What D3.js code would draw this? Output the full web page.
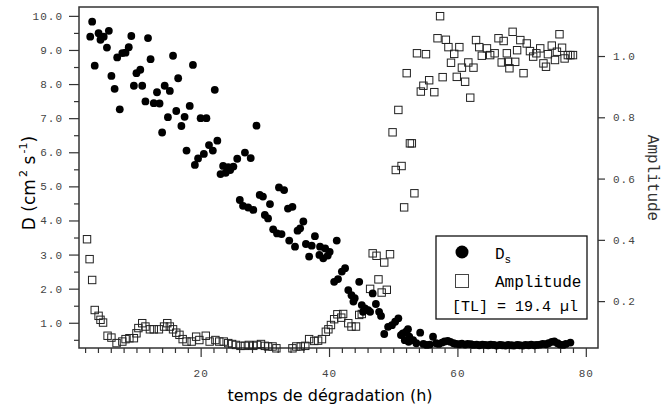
<!DOCTYPE html>
<html>
<head>
<meta charset="utf-8">
<script src="https://cdn.jsdelivr.net/npm/d3@7"></script>
<style>
  body { margin: 0; background: #fff; }
  svg { display: block; }
  .tick text { font-family: "Liberation Mono", monospace; font-size: 11px; letter-spacing: 1px; fill: #444; }
  .tick line { stroke: #333; stroke-width: 1.2px; }
</style>
</head>
<body>
<div id="chart"></div>
<script>
// D_s (cm2 s-1), left axis
var dsTime = [2.8, 3.1, 3.5, 4.1, 4.4, 4.9, 5.4, 5.7, 6.1, 6.6,
  7.0, 7.4, 7.8, 8.3, 8.8, 9.2, 9.6, 10.0, 10.6, 10.9,
  11.4, 11.8, 12.2, 12.7, 13.2, 13.6, 14.0, 14.4, 14.9, 15.2,
  15.7, 16.2, 16.5, 17.0, 17.5, 17.8, 18.3, 18.8, 19.1, 19.6,
  20.0, 20.5, 20.9, 21.3, 21.9, 22.2, 22.6, 23.1, 23.5, 23.9,
  24.3, 24.6, 25.1, 25.7, 26.1, 26.6, 26.9, 27.4, 27.8, 28.2,
  28.7, 29.2, 29.7, 30.0, 30.5, 30.8, 31.3, 31.9, 32.2, 32.6,
  33.0, 33.6, 33.8, 34.3, 34.7, 35.1, 35.5, 36.0, 36.4, 36.9,
  37.3, 37.8, 38.5, 38.6, 39.1, 39.4, 39.8, 40.1, 40.8, 41.2,
  41.4, 42.0, 42.5, 43.0, 43.5, 43.8, 44.0, 44.7, 45.1, 45.3,
  45.6, 46.1, 46.4, 46.8, 47.3, 47.8, 48.1, 48.6, 49.2, 49.8,
  50.3, 50.8, 51.2, 51.5, 51.8, 52.0, 52.3, 52.4, 52.5, 53.1,
  53.6, 54.2, 54.7, 55.2, 55.7, 56.2, 56.7, 57.1, 57.6, 58.0,
  58.5, 58.9, 59.4, 59.8, 60.3, 60.7, 61.2, 61.6, 62.1, 62.5,
  63.0, 63.4, 63.9, 64.3, 64.8, 65.2, 65.7, 66.1, 66.6, 67.0,
  67.5, 67.9, 68.4, 68.8, 69.3, 69.7, 70.2, 70.6, 71.1, 71.5,
  72.0, 72.4, 72.9, 73.3, 73.8, 74.2, 74.7, 75.1, 75.6, 76.0,
  76.5, 76.9, 77.6];
var dsValue = [9.39, 9.83, 8.54, 9.49, 9.30, 9.39, 9.07, 9.56, 8.24, 7.86,
  8.78, 7.26, 8.91, 8.92, 9.08, 9.41, 7.95, 8.32, 8.42, 7.95,
  7.49, 9.35, 8.73, 7.44, 7.76, 7.43, 6.58, 7.95, 7.03, 7.80,
  8.83, 7.21, 8.17, 6.77, 7.04, 6.05, 7.36, 8.56, 5.63, 5.82,
  7.00, 5.95, 7.00, 6.21, 6.05, 7.83, 6.34, 5.36, 5.60, 5.40,
  5.56, 5.48, 5.58, 5.81, 4.60, 4.43, 5.99, 4.38, 5.83, 4.31,
  6.78, 4.75, 4.70, 4.16, 4.06, 4.48, 3.74, 3.62, 4.97, 3.60,
  4.89, 4.35, 3.41, 4.40, 3.23, 3.70, 3.77, 3.97, 3.31, 2.94,
  3.26, 3.54, 2.99, 3.23, 2.89, 3.18, 2.97, 3.08, 2.20, 3.41,
  2.28, 2.50, 2.60, 1.96, 1.81, 1.62, 1.72, 2.20, 1.52, 1.32,
  1.42, 1.37, 1.32, 1.86, 1.55, 1.32, 1.20, 0.67, 0.88, 0.93,
  1.03, 1.13, 0.64, 0.69, 0.49, 0.74, 0.81, 0.44, 0.59, 0.49,
  0.40, 0.71, 0.38, 0.35, 0.36, 0.59, 0.40, 0.38, 0.42, 0.45,
  0.47, 0.44, 0.40, 0.38, 0.37, 0.39, 0.36, 0.38, 0.37, 0.35,
  0.36, 0.34, 0.36, 0.35, 0.34, 0.36, 0.35, 0.33, 0.35, 0.34,
  0.33, 0.35, 0.34, 0.33, 0.35, 0.34, 0.33, 0.35, 0.34, 0.36,
  0.34, 0.35, 0.36, 0.38, 0.37, 0.40, 0.44, 0.45, 0.40, 0.36,
  0.35, 0.38, 0.42];

// Amplitude, right axis
var ampTime = [2.3, 2.7, 3.1, 3.5, 4.1, 4.4, 4.8, 5.5, 6.1, 6.9,
  7.8, 8.3, 8.9, 9.6, 10.0, 10.3, 10.9, 11.4, 12.1, 12.7,
  13.5, 14.3, 14.8, 15.2, 15.7, 16.2, 16.7, 17.2, 17.8, 18.6,
  19.3, 19.8, 20.8, 21.4, 22.3, 22.9, 23.6, 24.3, 24.9, 25.5,
  26.2, 26.9, 27.5, 28.2, 28.8, 29.4, 30.0, 30.5, 31.2, 31.8,
  34.3, 34.9, 35.6, 36.3, 36.9, 37.7, 38.3, 38.9, 39.5, 39.9,
  40.3, 40.8, 41.3, 41.9, 42.2, 43.0, 43.5, 44.2, 44.7, 45.1,
  46.4, 46.8, 47.4, 47.7, 48.2, 48.6, 49.0, 49.5, 49.9, 50.4,
  50.8, 51.3, 51.7, 52.1, 52.6, 52.9, 53.3, 53.7, 54.3, 54.7,
  55.1, 55.6, 56.4, 56.9, 57.3, 57.7, 58.2, 58.6, 59.0, 59.5,
  59.9, 60.3, 60.7, 61.2, 61.7, 62.0, 62.5, 62.9, 63.4, 63.8,
  64.6, 65.1, 65.8, 66.4, 66.9, 67.2, 67.7, 67.9, 68.1, 68.6,
  69.0, 69.3, 69.8, 70.3, 70.8, 71.3, 71.8, 72.3, 72.9, 73.4,
  73.8, 74.1, 74.7, 75.2, 75.5, 75.9, 76.3, 76.7, 77.2, 77.6,
  78.0];
var ampValue = [0.402, 0.337, 0.269, 0.171, 0.152, 0.139, 0.130, 0.087, 0.081, 0.063,
  0.068, 0.076, 0.079, 0.079, 0.095, 0.112, 0.128, 0.117, 0.108, 0.108,
  0.108, 0.117, 0.128, 0.117, 0.108, 0.097, 0.090, 0.076, 0.068, 0.068,
  0.084, 0.073, 0.087, 0.068, 0.073, 0.068, 0.068, 0.063, 0.060, 0.057,
  0.054, 0.054, 0.057, 0.054, 0.057, 0.060, 0.054, 0.052, 0.052, 0.046,
  0.046, 0.052, 0.052, 0.054, 0.076, 0.070, 0.071, 0.076, 0.100, 0.108,
  0.122, 0.141, 0.157, 0.146, 0.158, 0.128, 0.117, 0.117, 0.155, 0.158,
  0.240, 0.356, 0.348, 0.271, 0.228, 0.326, 0.237, 0.353, 0.751, 0.628,
  0.824, 0.641, 0.506, 0.944, 0.715, 0.715, 0.552, 1.009, 0.884, 0.903,
  1.006, 0.921, 0.882, 1.058, 1.130, 0.931, 1.053, 1.029, 0.978, 1.007,
  0.932, 1.029, 0.962, 0.916, 0.979, 0.864, 0.962, 1.052, 1.029, 1.001,
  1.025, 1.003, 1.009, 1.058, 0.979, 1.049, 1.009, 0.981, 0.960, 1.079,
  0.981, 1.019, 1.052, 0.944, 1.041, 1.016, 0.998, 1.009, 1.025, 0.976,
  0.965, 1.006, 1.034, 0.987, 1.014, 1.071, 1.027, 0.992, 1.003, 1.003,
  1.003];

// ticks
var xMajor = [20, 40, 60, 80];
var xMinor = d3.range(2, 80, 2);
var yLeftMajor = d3.range(1, 11);
var yLeftMinor = d3.range(0.5, 10, 1);
var yRightMajor = [0.2, 0.4, 0.6, 0.8, 1.0];

var width = 663, height = 410;
var mLeft = 79, mRight = 598, mTop = 7, mBottom = 348;

var svg = d3.select("#chart").append("svg")
  .attr("width", width).attr("height", height);

var x = d3.scaleLinear().domain([1.05, 81.9]).range([mLeft, mRight]);
var yL = d3.scaleLinear().domain([0.26, 10.26]).range([mBottom, mTop]);
var yR = d3.scaleLinear().domain([0.047, 1.16]).range([mBottom, mTop]);

// axes
svg.append("g").attr("transform", `translate(0,${mBottom})`)
  .call(d3.axisBottom(x).tickValues(xMinor.filter(d => xMajor.indexOf(d) < 0)).tickSize(5).tickFormat(""));
svg.append("g").attr("transform", `translate(0,${mBottom})`)
  .call(d3.axisBottom(x).tickValues(xMajor).tickSize(9).tickPadding(12).tickFormat(d3.format("d")));

svg.append("g").attr("transform", `translate(${mLeft},0)`)
  .call(d3.axisLeft(yL).tickValues(yLeftMinor).tickSize(5).tickFormat(""));
svg.append("g").attr("transform", `translate(${mLeft},0)`)
  .call(d3.axisLeft(yL).tickValues(yLeftMajor).tickSize(10).tickPadding(6).tickFormat(d3.format(".1f")));

svg.append("g").attr("transform", `translate(${mRight},0)`)
  .call(d3.axisRight(yR).tickValues(yRightMajor).tickSize(7).tickPadding(8).tickFormat(d3.format(".1f")));

svg.selectAll(".domain").remove();

// frame
svg.append("rect")
  .attr("x", mLeft).attr("y", mTop)
  .attr("width", mRight - mLeft).attr("height", mBottom - mTop)
  .attr("fill", "none").attr("stroke", "#333").attr("stroke-width", 1.5);

// amplitude squares
var amp = ampTime.map((t, i) => ({t: t, v: ampValue[i]}));
svg.append("g").selectAll("rect").data(amp).enter().append("rect")
  .attr("x", d => x(d.t) - 3.7)
  .attr("y", d => yR(d.v) - 3.7)
  .attr("width", 7.4).attr("height", 7.4)
  .attr("fill", "none").attr("stroke", "#222").attr("stroke-width", 1);

// D_s circles
var ds = dsTime.map((t, i) => ({t: t, v: dsValue[i]}));
svg.append("g").selectAll("circle").data(ds).enter().append("circle")
  .attr("cx", d => x(d.t))
  .attr("cy", d => yL(d.v))
  .attr("r", 3.9)
  .attr("fill", "#000");

// axis titles
svg.append("text")
  .attr("x", 330).attr("y", 401)
  .attr("text-anchor", "middle")
  .style("font-family", "DejaVu Sans, sans-serif").style("font-size", "16px")
  .text("temps de dégradation (h)");

var yt = svg.append("text")
  .attr("transform", "translate(35,183) rotate(-90)")
  .attr("text-anchor", "middle")
  .style("font-family", "DejaVu Sans, sans-serif").style("font-size", "17px");
yt.append("tspan").text("D (cm");
yt.append("tspan").attr("dy", -8).style("font-size", "11px").text("\u20092");
yt.append("tspan").attr("dy", 8).text(" s");
yt.append("tspan").attr("dy", -8).style("font-size", "11px").text("\u2009-1");
yt.append("tspan").attr("dy", 8).text(")");

svg.append("text")
  .attr("transform", "translate(648,178) rotate(90)")
  .attr("text-anchor", "middle")
  .style("font-family", "Liberation Mono, monospace").style("font-size", "16px")
  .style("fill", "#333")
  .text("Amplitude");

// legend
var lg = svg.append("g");
lg.append("rect").attr("x", 436).attr("y", 236).attr("width", 151).attr("height", 83)
  .attr("fill", "#fff").attr("stroke", "#111").attr("stroke-width", 1.3);
lg.append("circle").attr("cx", 462).attr("cy", 252).attr("r", 6.5).attr("fill", "#000");
lg.append("rect").attr("x", 455.5).attr("y", 274.5).attr("width", 13).attr("height", 13)
  .attr("fill", "none").attr("stroke", "#444").attr("stroke-width", 1);
var lt = lg.append("text").attr("x", 495).attr("y", 259)
  .style("font-family", "Liberation Mono, monospace").style("font-size", "16px");
lt.append("tspan").text("D");
lt.append("tspan").attr("dy", 4).style("font-size", "11px").text("s");
lg.append("text").attr("x", 495).attr("y", 287)
  .style("font-family", "Liberation Mono, monospace").style("font-size", "16px")
  .text("Amplitude");
lg.append("text").attr("x", 452).attr("y", 311)
  .style("font-family", "Liberation Mono, monospace").style("font-size", "15px")
  .text("[TL] = 19.4 \u00b5l");
</script>
</body>
</html>
